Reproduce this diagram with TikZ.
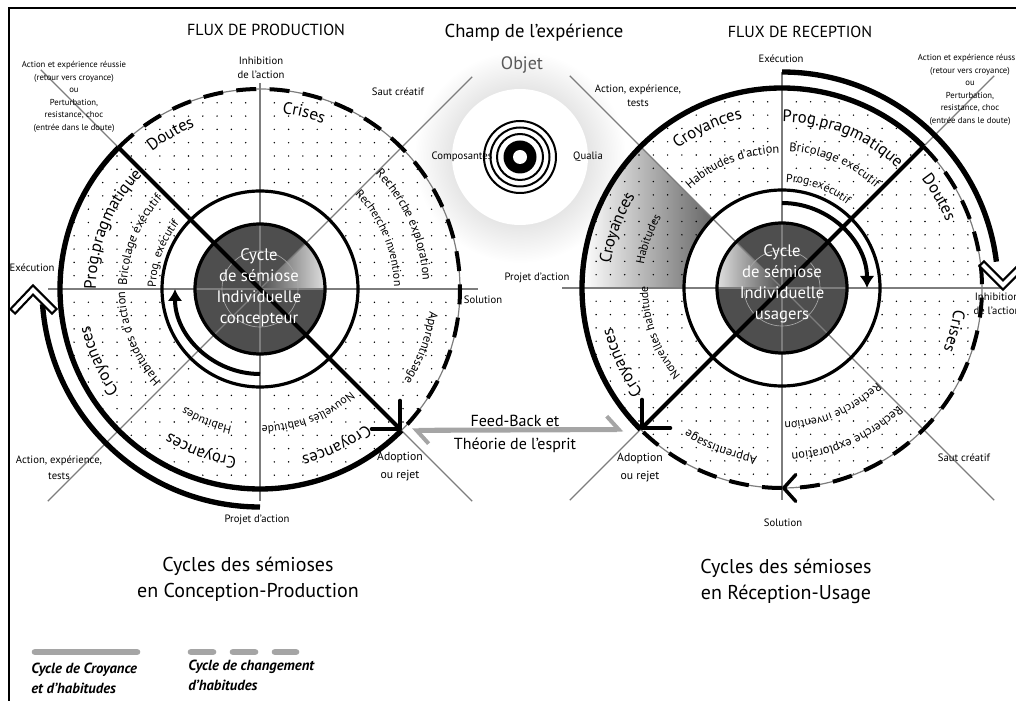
\documentclass[tikz,border=0pt]{standalone}
\usepackage{amsmath}
\usepackage{fontspec}
\setmainfont{PT Sans}
\usepackage{tikz}
\usetikzlibrary{arrows.meta,calc,decorations.text}

\definecolor{guidegray}{RGB}{125,125,125}
\definecolor{discgray}{RGB}{78,78,78}
\definecolor{feedgray}{RGB}{165,165,165}

\newcommand\sizeA{\fontsize{12.5}{13}\selectfont}
\newcommand\sizeB{\fontsize{9.3}{10}\selectfont}
\newcommand\sizeC{\fontsize{8.8}{9}\selectfont}

% text along a clockwise arc: centre, angle, radius, size, text
\newcommand\arclabel[5]{%
  \pgfmathsetmacro\arcfrom{#2+50}\pgfmathsetmacro\arcto{#2-50}%
  \path[decorate,decoration={text along path,text align=center,text={|#4|#5}}]
    ([shift={(\arcfrom:#3)}]#1) arc[start angle=\arcfrom,end angle=\arcto,radius=#3];}

\tikzset{
  guideline/.style={draw=guidegray, line width=0.9pt},
  belief/.style={line width=4pt},
  change/.style={line width=3pt, dash pattern=on 15pt off 10pt},
  ringline/.style={line width=2.4pt},
  crossarrow/.style={line width=3pt, -{Straight Barb[length=15pt,width=30pt,line width=3pt,round]}},
  innerarrow/.style={line width=3pt, -{Latex[length=9pt,width=11pt]}},
  chevron/.style={line width=1.7pt, double=white, double distance=3pt, line cap=rect, line join=miter},
  feedback/.style={draw=feedgray, line width=3.8pt,
    {Straight Barb[harpoon,length=9pt,width=20pt,line width=3pt]}-{Straight Barb[harpoon,length=9pt,width=20pt,line width=3pt]}},
  lbl/.style={font=\fontsize{8}{10.5}\selectfont, align=center, inner sep=0pt},
  adopt/.style={font=\fontsize{8.8}{13.5}\selectfont, align=center, inner sep=0pt},
  smalltxt/.style={font=\fontsize{6.5}{9.4}\selectfont, align=center, inner sep=0pt},
  flux/.style={font=\fontsize{12}{13}\selectfont, inner sep=0pt},
  disctxt/.style={font=\fontsize{12.5}{15.75}\selectfont, text=white, align=center, inner sep=0pt},
  captiontxt/.style={font=\fontsize{15}{19.5}\selectfont, align=center, inner sep=0pt},
  legendtxt/.style={font=\fontsize{11}{15}\selectfont\bfseries\itshape, align=left, inner sep=0pt, anchor=west},
}

\begin{document}
\begin{tikzpicture}[x=0.75pt,y=0.75pt]
\useasboundingbox (0,0) rectangle (1016,700);

% centres
\coordinate (L) at (260,411);
\coordinate (R) at (782,412);
\coordinate (O) at (520,543);
\coordinate (L-nw) at ([shift={(135:200)}]L);
\coordinate (L-se) at ([shift={(315:200)}]L);
\coordinate (L-exec) at ([shift={(-227,-1)}]L);
\coordinate (R-ne) at ([shift={(45:200)}]R);
\coordinate (R-sw) at ([shift={(225:200)}]R);
\coordinate (R-inhib) at ([shift={(221,3)}]R);

% Objet
\shade[inner color=gray!55, outer color=white] (O) circle (106);
\fill[white] (O) circle (68);
\node[lbl] (compo) at (462,543) {Composantes};
\node[lbl] (qualia) at (588,543) {Qualia};
\draw[line width=1.5pt] (O) circle (36) (O) circle (29.5) (O) circle (23);
\fill (O) circle (16.5);
\fill[white] (O) circle (7);

%%%%%%%%%%%%%%%% left circle
\begin{scope}
  \clip (L) circle (200);
  \foreach \i in {-14,...,14}
    \foreach \j in {-15,...,15}
      \fill ([shift={(\i*14.3,\j*13.3)}]L) circle (0.8);
\end{scope}
\fill[white] (L) circle (98);
\fill[discgray] (L) circle (65);
\shade[left color=discgray, right color=gray!25] (L) -- ([shift={(0:65)}]L) arc[start angle=0,end angle=45,radius=65] -- cycle;
% guide lines
\draw[guideline] ([shift={(180:212)}]L) -- ([shift={(0:218)}]L);
\draw[guideline] ([shift={(90:206)}]L) -- ([shift={(270:212)}]L);
\draw[guideline] ([shift={(135:310)}]L) -- ([shift={(315:300)}]L);
\draw[guideline] ([shift={(45:300)}]L) -- ([shift={(225:300)}]L);
\draw[guideline] (L) circle (200);
\draw[gray!70, line width=0.5pt] (L) circle (38);
\draw[ringline] (L) circle (65);
\draw[ringline] (L) circle (98);
% cycles
\draw[belief] (L-nw) arc[start angle=135,end angle=315,radius=200];
\draw[change] (L-nw) arc[start angle=135,end angle=-45,radius=200];
\draw[crossarrow] (L-nw) -- (L-se);
\draw[innerarrow] ([shift={(270:85)}]L) arc[start angle=270,end angle=180,radius=85];
\draw[belief] ([shift={(270:218)}]L) arc[start angle=270,end angle=184,radius=218];
\draw[chevron] ([shift={(-18,-19)}]L-exec) -- (L-exec) -- ([shift={(19,-19)}]L-exec);
% sector labels
\arclabel{L}{120}{175}{\sizeA}{Doutes}
\arclabel{L}{76}{177}{\sizeA}{Crises}
\arclabel{L}{24}{163}{\sizeB}{Recherche exploration}
\arclabel{L}{23}{134}{\sizeC}{Recherche invention}
\arclabel{L}{340}{171}{\sizeB}{Apprentissage}
\arclabel{L}{296}{172}{\sizeA}{Croyances}
\arclabel{L}{291}{137}{\sizeC}{Nouvelles habitude}
\arclabel{L}{248}{140}{\sizeC}{Habitudes}
\arclabel{L}{250}{170}{\sizeA}{Croyances}
\arclabel{L}{204}{174}{\sizeA}{Croyances}
\arclabel{L}{202}{135}{\sizeB}{Habitudes d'action}
\arclabel{L}{158}{164}{\sizeA}{Prog.pragmatique}
\arclabel{L}{158}{133}{\sizeB}{Bricolage éxécutif}
\arclabel{L}{160}{104}{\sizeC}{Prog. exécutif}
\node[disctxt] (L-cycle) at (259,412) {Cycle\\de sémiose\\Individuelle\\concepteur};

%%%%%%%%%%%%%%%% right circle
\shade[left color=white, right color=gray!80!black] ([shift={(180:200)}]R) arc[start angle=180,end angle=135,radius=200]
  -- ([shift={(135:98)}]R) arc[start angle=135,end angle=180,radius=98] -- cycle;
\begin{scope}
  \clip (R) circle (200);
  \foreach \i in {-14,...,14}
    \foreach \j in {-15,...,15}
      \fill ([shift={(\i*14.3,\j*13.3)}]R) circle (0.8);
\end{scope}
\fill[white] (R) circle (98);
\fill[discgray] (R) circle (65);
\shade[left color=gray!25, right color=discgray] (R) -- ([shift={(180:65)}]R) arc[start angle=180,end angle=135,radius=65] -- cycle;
% guide lines
\draw[guideline] ([shift={(180:220)}]R) -- ([shift={(0:220)}]R);
\draw[guideline] ([shift={(90:216)}]R) -- ([shift={(270:212)}]R);
\draw[guideline] ([shift={(135:300)}]R) -- ([shift={(315:300)}]R);
\draw[guideline] ([shift={(45:300)}]R) -- ([shift={(225:300)}]R);
\draw[guideline] (R) circle (200);
\draw[gray!70, line width=0.5pt] (R) circle (38);
\draw[ringline] (R) circle (65);
\draw[ringline] (R) circle (98);
% cycles
\draw[belief] (R-ne) arc[start angle=45,end angle=225,radius=200];
\draw[change, -{Straight Barb[length=9pt,width=20pt,line width=2.6pt,round]}] (R-ne) arc[start angle=45,end angle=-90,radius=200];
\draw[change] ([shift={(270:200)}]R) arc[start angle=-90,end angle=-135,radius=200];
\draw[crossarrow] (R-ne) -- (R-sw);
\draw[innerarrow] ([shift={(90:85)}]R) arc[start angle=90,end angle=0,radius=85];
\draw[belief] ([shift={(90:216)}]R) arc[start angle=90,end angle=7,radius=216];
\draw[chevron] ([shift={(-19,19)}]R-inhib) -- (R-inhib) -- ([shift={(19,19)}]R-inhib);
% sector labels
\arclabel{R}{115}{174}{\sizeA}{Croyances}
\arclabel{R}{112}{135}{\sizeB}{Habitudes d'action}
\arclabel{R}{68}{166}{\sizeA}{Prog.pragmatique}
\arclabel{R}{67}{137}{\sizeB}{Bricolage exécutif}
\arclabel{R}{70}{106}{\sizeC}{Prog.exécutif}
\arclabel{R}{30}{177}{\sizeA}{Doutes}
\arclabel{R}{346}{173}{\sizeA}{Crises}
\arclabel{R}{294}{165}{\sizeB}{Recherche exploration}
\arclabel{R}{293}{134}{\sizeC}{Recherche invention}
\arclabel{R}{249}{170}{\sizeB}{Apprentissage}
\arclabel{R}{205}{174}{\sizeA}{Croyances}
\arclabel{R}{200}{134}{\sizeC}{Nouvelles habitude}
\arclabel{R}{160}{173}{\sizeA}{Croyances}
\arclabel{R}{160}{140}{\sizeC}{Habitudes}
\node[disctxt] (R-cycle) at (782,416) {Cycle\\de sémiose\\Individuelle\\usagers};

% feed-back between the two circles
\draw[feedback, shorten <=8pt, shorten >=13pt] (L-se) -- (R-sw);
\node[font=\fontsize{12}{17}\selectfont, align=center, inner sep=0pt] (feed) at (515,266) {Feed-Back et\\Théorie de l'esprit};

% Text Node
\node[flux] (prod) at (266,670) {FLUX DE PRODUCTION};
\node[flux] (recep) at (800,668) {FLUX DE RECEPTION};
\node[font=\fontsize{14}{16}\selectfont, inner sep=0pt] (champ) at (534,667) {Champ de l'expérience};
\node[font=\fontsize{13.5}{16}\selectfont, text=black!65, inner sep=0pt] (objet) at (522,635) {Objet};
% left outer labels
\node[smalltxt] (L-report) at (74,603) {Action et expérience réussie\\(retour vers croyance)\\ou\\Perturbation,\\resistance, choc\\(entrée dans le doute)};
\node[lbl] (L-inhib) at (261,632) {Inhibition\\de l'action};
\node[lbl] (L-saut) at (398,608) {Saut créatif};
\node[lbl] (L-exec-t) at (32,432) {Exécution};
\node[lbl] (L-sol) at (483,400) {Solution};
\node[adopt] (L-adopt) at (400,233) {Adoption\\ou rejet};
\node[lbl, font=\fontsize{8}{12}\selectfont] (L-test) at (59,232) {Action, expérience,\\tests};
\node[lbl] (L-projet) at (257,180) {Projet d'action};
% right outer labels
\node[lbl] (R-exec-t) at (781,641) {Exécution};
\node[lbl] (R-test) at (638,604) {Action, expérience,\\tests};
\node[smalltxt] (R-report) at (970,610) {Action et expérience réussie\\(retour vers croyance)\\ou\\Perturbation,\\resistance, choc\\(entrée dans le doute)};
\node[lbl] (R-inhib-t) at (997,396) {Inhibition\\de l'action};
\node[lbl] (R-saut) at (964,242) {Saut créatif};
\node[lbl] (R-sol) at (783,177) {Solution};
\node[adopt] (R-adopt) at (640,232) {Adoption\\ou rejet};
\node[lbl] (R-projet) at (537,422) {Projet d'action};

% captions
\node[captiontxt] (L-caption) at (248,121) {Cycles des sémioses\\en Conception-Production};
\node[captiontxt] (R-caption) at (786,119) {Cycles des sémioses\\en Réception-Usage};

% legend
\draw[feedgray, line width=5pt, line cap=round] (35,48) -- (137,48);
\draw[feedgray, line width=5pt, line cap=round, dash pattern=on 16.5pt off 15pt] (191,48) -- (296,48);
\node[legendtxt] (leg-a) at (31,22) {Cycle de Croyance\\et d'habitudes};
\node[legendtxt] (leg-b) at (188,25) {Cycle de changement\\d'habitudes};

% frame
\draw[line width=1.5pt] (9,-5) -- (9,692) -- (1025,692);
\end{tikzpicture}
\end{document}
